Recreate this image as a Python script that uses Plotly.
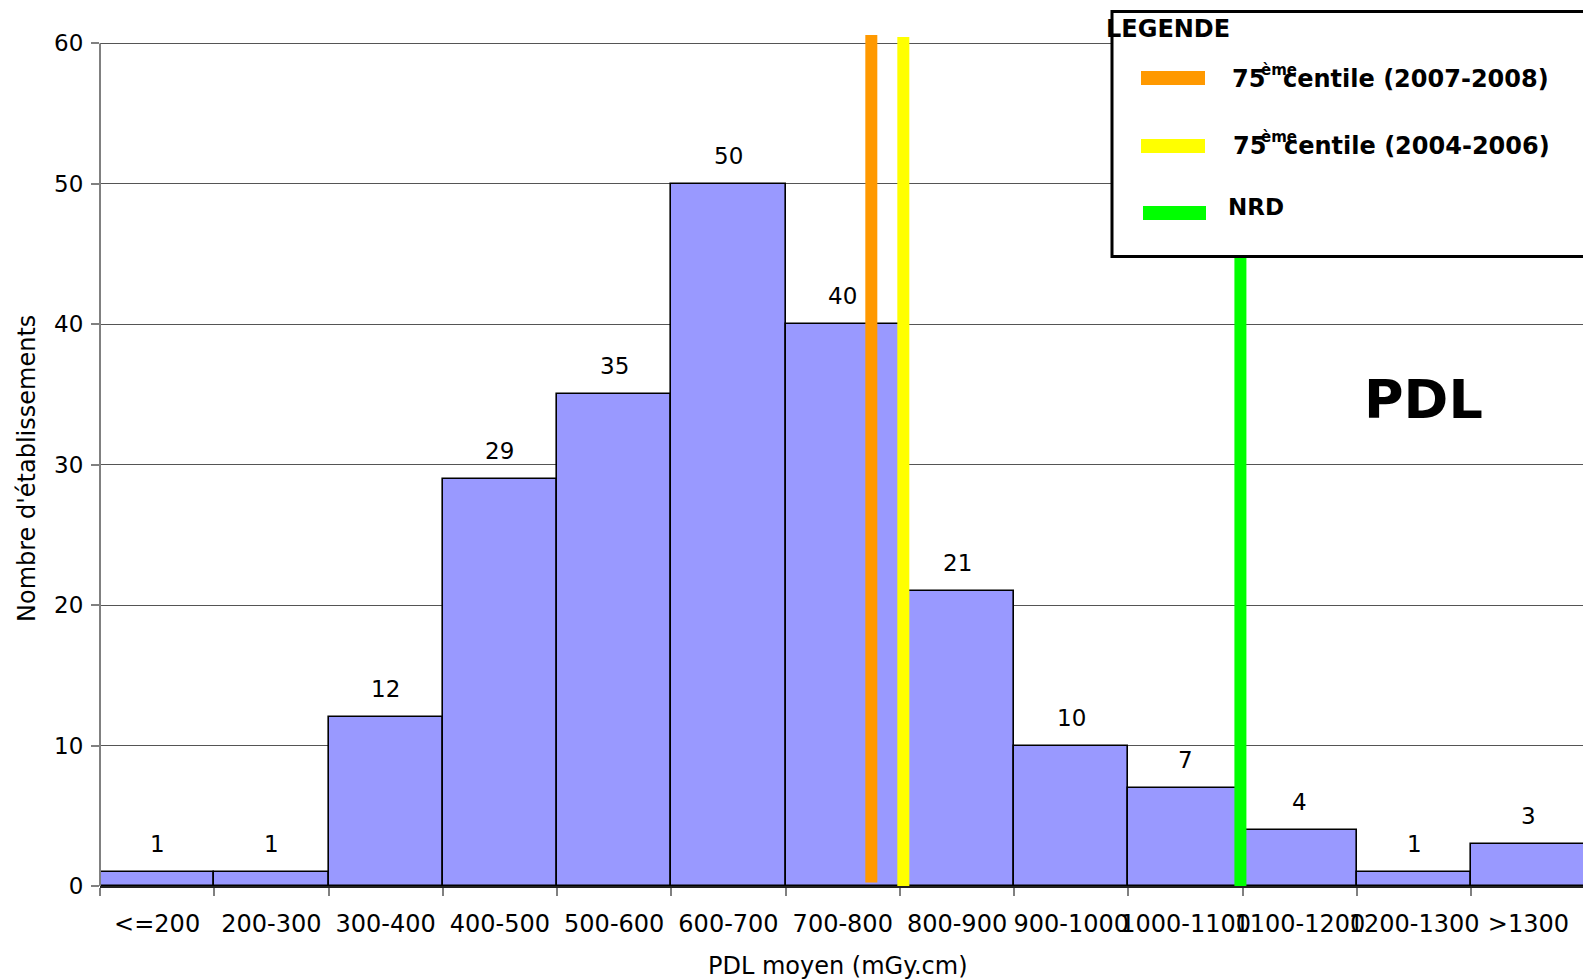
import plotly.graph_objects as go

# Histogram of mean DLP per site
categories = ["<=200", "200-300", "300-400", "400-500", "500-600", "600-700",
              "700-800", "800-900", "900-1000", "1000-1100", "1100-1200",
              "1200-1300", ">1300"]
counts = [1, 1, 12, 29, 35, 50, 40, 21, 10, 7, 4, 1, 3]

# Reference levels (mGy.cm) drawn as vertical bars
ref_names = ["75ème centile (2007-2008)", "75ème centile (2004-2006)", "NRD"]
ref_values = [775, 803, 1098]
ref_colors = ["#FF9900", "#FFFF00", "#00FF00"]
ref_tops = [60.6, 60.45, 60.45]
ref_bottoms = [0.25, 0.0, 0.0]

W, H = 1583, 980
L, R, T, B = 100, 0, 29, 94
PW, PH = W - L - R, H - T - B
CAT_PX = 114.27         # width of one 100 mGy.cm bin
Y_TOP = PH / ((H - B - 43.4) / 60)

FONT = "DejaVu Sans"


def px_x(p):
    return (p - L) / PW


def px_y(p):
    return (H - B - p) / PH


def dose_to_index(v):
    # bin k covers [100 + 100k, 200 + 100k]; index k is the bin centre
    return (v - 150) / 100


fig = go.Figure()
fig.add_trace(go.Bar(
    x=categories, y=counts,
    marker=dict(color="#9999FF", line=dict(color="black", width=1.6)),
    width=1, showlegend=False, hoverinfo="skip",
))

shapes = []
# y axis line from 0 to 60
shapes.append(dict(type="line", xref="paper", yref="y", x0=0, x1=0, y0=0, y1=60,
                   line=dict(color="#808080", width=2), layer="above"))
# reference level bars
for v, c, top, bot in zip(ref_values, ref_colors, ref_tops, ref_bottoms):
    xi = dose_to_index(v)
    shapes.append(dict(type="line", xref="x", yref="y", x0=xi, x1=xi, y0=bot, y1=top,
                       line=dict(color=c, width=12), layer="above"))
# legend box
shapes.append(dict(type="rect", xref="paper", yref="paper",
                   x0=px_x(1112), x1=px_x(W + 10), y0=px_y(11.5), y1=px_y(256.5),
                   fillcolor="white", line=dict(color="black", width=3), layer="above"))
# legend swatches
for c, yc, (xa, xb) in zip(ref_colors, [78, 146, 213], [(1141, 1205), (1141, 1205), (1143, 1206)]):
    shapes.append(dict(type="rect", xref="paper", yref="paper",
                       x0=px_x(xa), x1=px_x(xb), y0=px_y(yc - 7), y1=px_y(yc + 7),
                       fillcolor=c, line=dict(width=0), layer="above"))

annotations = []
# value labels above bars
for cat, n in zip(categories, counts):
    annotations.append(dict(x=cat, y=n, xref="x", yref="y", text=str(n),
                            showarrow=False, yanchor="middle", yshift=28,
                            font=dict(family=FONT, size=23, color="black")))


def label(text, x, y, size, bold=False, xanchor="left"):
    annotations.append(dict(xref="paper", yref="paper", x=px_x(x), y=px_y(y),
                            text=text, showarrow=False, xanchor=xanchor, yanchor="middle",
                            font=dict(family=FONT, size=size, color="black",
                                      weight="bold" if bold else "normal")))


label("LEGENDE", 1104, 29, 24, bold=True)
for yc, x75, xc, years in [(79, 1230, 1281, "(2007-2008)"), (146, 1231, 1282, "(2004-2006)")]:
    label("75", x75, yc, 24, bold=True)
    label("ème", 1259, yc - 9, 15, bold=True)
    label("centile " + years, xc, yc, 24, bold=True)
label("NRD", 1226, 207, 23, bold=True)
label("PDL", 1423, 400, 54, bold=True, xanchor="center")

# axis titles
label("PDL moyen (mGy.cm)", 838, 966, 24, xanchor="center")
annotations.append(dict(xref="paper", yref="paper", x=px_x(27), y=px_y(469),
                        text="Nombre d'établissements", showarrow=False, textangle=-90,
                        xanchor="center", yanchor="middle",
                        font=dict(family=FONT, size=24, color="black")))

fig.update_layout(
    template="none",
    width=W, height=H,
    margin=dict(l=L, r=R, t=T, b=B, autoexpand=False),
    paper_bgcolor="white", plot_bgcolor="white",
    bargap=0,
    showlegend=False,
    shapes=shapes,
    annotations=annotations,
    font=dict(family=FONT, size=23, color="black"),
)
fig.update_xaxes(
    type="category", range=[-0.5, -0.5 + PW / CAT_PX],
    tickson="boundaries", ticks="outside", ticklen=8, tickcolor="#808080", tickwidth=1.5,
    tickangle=0, ticklabelstandoff=15,
    showline=True, linecolor="#222222", linewidth=2,
    showgrid=False, zeroline=False, automargin=False,
    tickfont=dict(family=FONT, size=24, color="black"),
)
fig.update_yaxes(
    range=[0, Y_TOP], tickmode="array", tickvals=[0, 10, 20, 30, 40, 50, 60],
    ticks="outside", ticklen=8, tickcolor="#808080", tickwidth=1.5,
    ticklabelstandoff=3,
    showline=False, showgrid=True, gridcolor="#555555", gridwidth=1,
    zeroline=False, automargin=False,
    tickfont=dict(family=FONT, size=23, color="black"),
)

fig.write_html("out.html")
